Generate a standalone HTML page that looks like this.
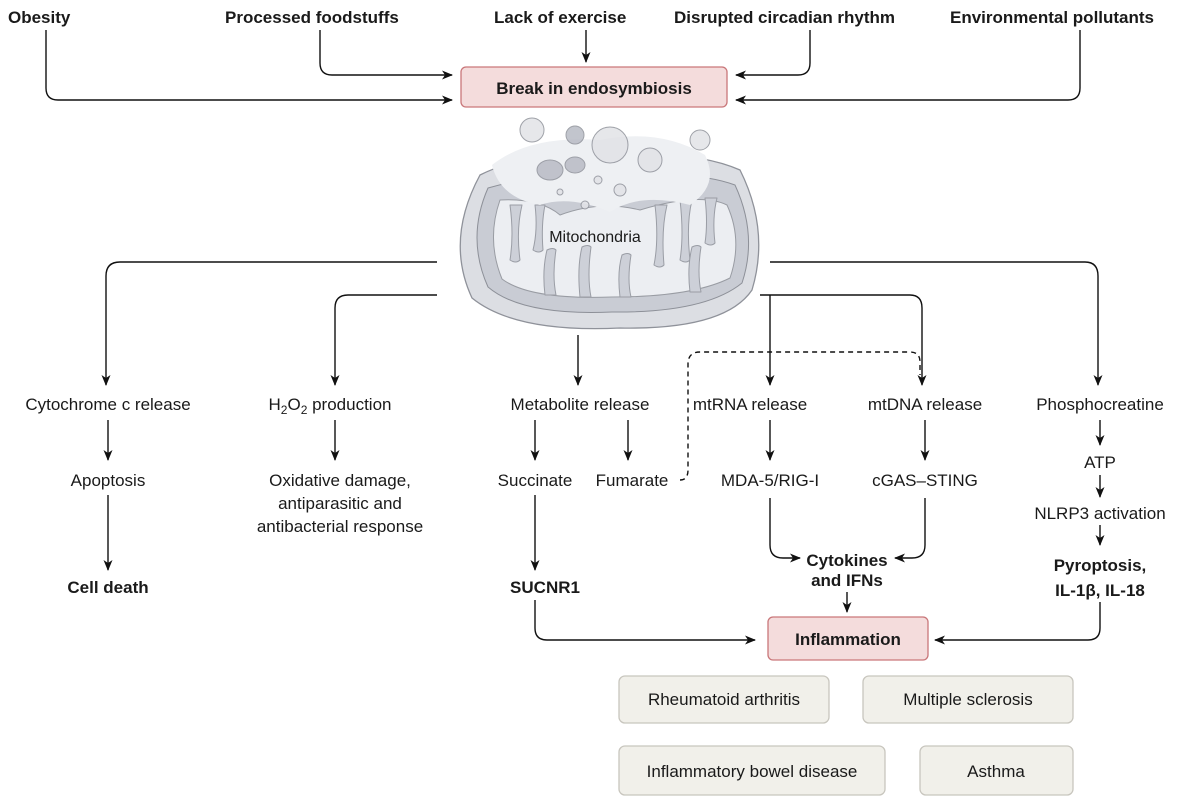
<!DOCTYPE html>
<html><head><meta charset="utf-8"><style>
body{margin:0;background:#fff;}
text{font-family:"Liberation Sans",sans-serif;font-size:17px;fill:#1a1a1a;}
.b{font-weight:bold;}
</style></head><body>
<svg width="1200" height="805" viewBox="0 0 1200 805" xmlns="http://www.w3.org/2000/svg">
<defs><marker id="a" markerWidth="11" markerHeight="9" refX="10" refY="4.5" orient="auto" markerUnits="userSpaceOnUse"><path d="M0,0 L11,4.5 L0,9 L3,4.5z" fill="#111"/></marker></defs>
<g stroke="#111" stroke-width="1.4" fill="none" marker-end="url(#a)">
<path d="M46,30 V88 Q46,100 58,100 H452"/>
<path d="M320,30 V63 Q320,75 332,75 H452"/>
<path d="M586,30 V62"/>
<path d="M810,30 V63 Q810,75 798,75 H736"/>
<path d="M1080,30 V88 Q1080,100 1068,100 H736"/>
<path d="M437,262 H120 Q106,262 106,276 V385"/>
<path d="M437,295 H348 Q335,295 335,308 V385"/>
<path d="M578,335 V385"/>
<path d="M770,295 V385"/>
<path d="M760,295 H910 Q922,295 922,308 V385"/>
<path d="M770,262 H1085 Q1098,262 1098,276 V385"/>
<path d="M108,420 V460"/>
<path d="M108,495 V570"/>
<path d="M335,420 V460"/>
<path d="M535,420 V460"/>
<path d="M628,420 V460"/>
<path d="M535,495 V570"/>
<path d="M535,600 V628 Q535,640 547,640 H755"/>
<path d="M770,420 V460"/>
<path d="M925,420 V460"/>
<path d="M770,498 V545 Q770,558 783,558 H800"/>
<path d="M925,498 V545 Q925,558 912,558 H895"/>
<path d="M847,592 V612"/>
<path d="M1100,420 V445"/>
<path d="M1100,475 V497"/>
<path d="M1100,525 V545"/>
<path d="M1100,602 V628 Q1100,640 1088,640 H935"/>
</g>
<path d="M680,480 Q688,480 688,470 V364 Q688,352 700,352 H910 Q920,352 920,362 V375" stroke="#111" stroke-width="1.4" fill="none" stroke-dasharray="5,4"/>
<!-- mitochondria -->
<g stroke-linejoin="round">
<path d="M480,175 Q530,150 600,158 Q690,148 740,170 Q770,230 752,290 Q725,330 620,328 Q515,333 472,298 Q445,240 480,175z" fill="#dcdee3" stroke="#8f929a" stroke-width="1.3"/>
<path d="M488,188 Q540,172 600,190 Q680,165 735,185 Q758,235 742,283 Q705,313 612,312 Q522,316 488,287 Q466,238 488,188z" fill="#c9ccd4" stroke="#8d9098"/>
<path d="M500,200 Q540,198 560,215 Q600,200 640,210 Q700,192 727,205 Q743,240 730,278 Q692,297 612,297 Q530,300 502,279 Q486,240 500,200z" fill="#eceef2" stroke="#999ca3"/>
<g fill="#cdd0d8" stroke="#9a9da5" stroke-width="1">
<path d="M510,205 q4,30 0,55 q6,4 10,0 q-4,-30 2,-55z"/>
<path d="M535,205 q3,25 -2,45 q6,4 10,0 q-2,-25 2,-45z"/>
<path d="M655,205 q4,35 -1,60 q6,4 10,0 q-3,-35 3,-60z"/>
<path d="M680,200 q4,35 0,60 q6,4 10,0 q-4,-35 2,-60z"/>
<path d="M705,198 q3,25 0,45 q6,4 10,0 q-3,-25 2,-45z"/>
<path d="M545,295 q-3,-25 2,-45 q6,-3 9,0 q-4,25 0,45z"/>
<path d="M580,297 q-3,-30 2,-50 q6,-3 9,0 q-4,30 0,50z"/>
<path d="M620,297 q-3,-25 2,-42 q6,-3 9,0 q-4,25 0,42z"/>
<path d="M690,292 q-3,-25 2,-45 q6,-3 9,0 q-4,25 0,45z"/>
</g>
<path d="M492,165 Q530,135 600,140 Q660,128 705,155 Q720,185 690,205 Q640,192 610,212 Q570,195 540,205 Q500,198 492,165z" fill="#eef0f3"/>
<g fill="#b8bbc5" stroke="#8f929a" opacity="0.85">
<ellipse cx="550" cy="170" rx="13" ry="10"/><ellipse cx="575" cy="165" rx="10" ry="8"/><circle cx="575" cy="135" r="9"/>
<circle cx="532" cy="130" r="12" fill="#e2e3e7"/><circle cx="610" cy="145" r="18" fill="#e2e3e7"/><circle cx="650" cy="160" r="12" fill="#e2e3e7"/>
<circle cx="700" cy="140" r="10" fill="#e2e3e7"/><circle cx="585" cy="205" r="4" fill="#e2e3e7"/><circle cx="620" cy="190" r="6" fill="#e2e3e7"/>
<circle cx="560" cy="192" r="3" fill="#e2e3e7"/><circle cx="598" cy="180" r="4" fill="#e2e3e7"/>
</g>
<text x="595" y="242" text-anchor="middle" style="font-size:16px">Mitochondria</text>
</g>
<!-- boxes -->
<rect x="461" y="67" width="266" height="40" rx="5" fill="#f4dcdc" stroke="#c9777a" stroke-width="1.3"/>
<text x="594" y="94" text-anchor="middle" class="b">Break in endosymbiosis</text>
<rect x="768" y="617" width="160" height="43" rx="5" fill="#f4dcdc" stroke="#c9777a" stroke-width="1.3"/>
<text x="848" y="645" text-anchor="middle" class="b">Inflammation</text>
<g fill="#f1f0ea" stroke="#c8c6be" stroke-width="1.3">
<rect x="619" y="676" width="210" height="47" rx="6"/><rect x="863" y="676" width="210" height="47" rx="6"/>
<rect x="619" y="746" width="266" height="49" rx="6"/><rect x="920" y="746" width="153" height="49" rx="6"/>
</g>
<g text-anchor="middle">
<text x="724" y="705">Rheumatoid arthritis</text><text x="968" y="705">Multiple sclerosis</text>
<text x="752" y="777">Inflammatory bowel disease</text><text x="996" y="777">Asthma</text>
</g>
<g class="b">
<text x="8" y="23" class="b">Obesity</text><text x="225" y="23" class="b">Processed foodstuffs</text>
<text x="494" y="23" class="b">Lack of exercise</text><text x="674" y="23" class="b">Disrupted circadian rhythm</text>
<text x="950" y="23" class="b">Environmental pollutants</text>
</g>
<g text-anchor="middle">
<text x="108" y="410">Cytochrome c release</text>
<text x="330" y="410">H<tspan dy="4" style="font-size:12px">2</tspan><tspan dy="-4">O</tspan><tspan dy="4" style="font-size:12px">2</tspan><tspan dy="-4"> production</tspan></text>
<text x="580" y="410">Metabolite release</text>
<text x="750" y="410">mtRNA release</text>
<text x="925" y="410">mtDNA release</text>
<text x="1100" y="410">Phosphocreatine</text>
<text x="108" y="486">Apoptosis</text>
<text x="108" y="593" class="b">Cell death</text>
<text x="340" y="486">Oxidative damage,</text>
<text x="340" y="509">antiparasitic and</text>
<text x="340" y="532">antibacterial response</text>
<text x="535" y="486">Succinate</text>
<text x="632" y="486">Fumarate</text>
<text x="545" y="593" class="b">SUCNR1</text>
<text x="770" y="486">MDA-5/RIG-I</text>
<text x="925" y="486">cGAS–STING</text>
<text x="847" y="566" class="b">Cytokines</text>
<text x="847" y="586" class="b">and IFNs</text>
<text x="1100" y="468">ATP</text>
<text x="1100" y="519">NLRP3 activation</text>
<text x="1100" y="571" class="b">Pyroptosis,</text>
<text x="1100" y="596" class="b">IL-1β, IL-18</text>
</g>
</svg>
</body></html>
